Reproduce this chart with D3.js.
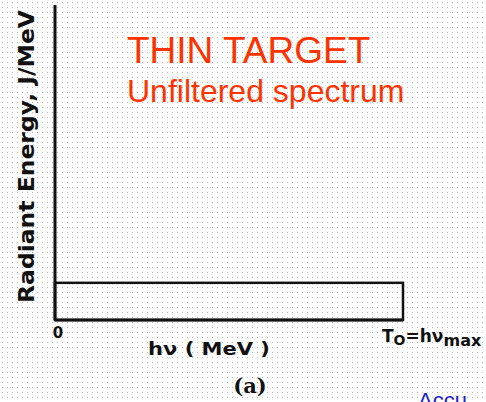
<!DOCTYPE html>
<html><head><meta charset="utf-8">
<script src="https://cdn.jsdelivr.net/npm/d3@7"></script>
<style>html,body{margin:0;padding:0;background:#fff;overflow:hidden}</style>
</head><body>
<script>
// Data: flat (constant) radiant energy from 0 to T0 = hν_max (normalized units)
const energyEdges = [0, 1];          // hν from 0 to T0 (fraction of T0)
const radiantEnergy = [0.118];       // constant J/MeV level (fraction of axis height)
const titleLines = ["THIN TARGET", "Unfiltered spectrum"];
const xTickLabels = ["0"];
const W = 486, H = 402;

const svg = d3.select("body").append("svg").attr("width", W).attr("height", H);
const defs = svg.append("defs");
const pat = defs.append("pattern").attr("id","dots").attr("width",5).attr("height",5)
  .attr("patternUnits","userSpaceOnUse");
pat.append("rect").attr("x",2).attr("y",2).attr("width",1).attr("height",1).attr("fill","#b8b8b8");
svg.append("rect").attr("width",W).attr("height",H).attr("fill","url(#dots)");

const x = d3.scaleLinear().domain([0,1]).range([55,403]);
const y = d3.scaleLinear().domain([0,1]).range([320,5]);

// bar (rectangle)
svg.selectAll("rect.bar").data(radiantEnergy).join("rect").attr("class","bar")
  .attr("x", x(energyEdges[0])).attr("width", x(energyEdges[1]) - x(energyEdges[0]))
  .attr("y", d => y(d)).attr("height", d => y(0) - y(d))
  .attr("fill","none").attr("stroke","#111").attr("stroke-width",2.5);

// axes lines
svg.append("line").attr("x1",x(0)).attr("x2",x(0)).attr("y1",y(1)).attr("y2",y(0))
  .attr("stroke","#111").attr("stroke-width",3);
svg.append("line").attr("x1",x(0)).attr("x2",x(1)).attr("y1",y(0)).attr("y2",y(0))
  .attr("stroke","#111").attr("stroke-width",3);

const F = "'Liberation Sans', Arial, sans-serif";
const FB = "'DejaVu Sans', sans-serif";
svg.selectAll("text.xt").data(xTickLabels).join("text").attr("class","xt")
  .attr("x", x(0)+3).attr("y", 338).attr("text-anchor","middle")
  .attr("font-family",FB).attr("font-weight","bold").attr("font-size",15).attr("fill","#111").text(d=>d);

svg.append("text").attr("x",148).attr("y",355)
  .attr("font-family",FB).attr("font-weight","bold").attr("font-size",18).attr("fill","#111")
  .attr("textLength",122).attr("lengthAdjust","spacingAndGlyphs").text("hν ( MeV )");

const t0 = svg.append("text").attr("x",382).attr("y",342)
  .attr("font-family",FB).attr("font-weight","bold").attr("font-size",17).attr("fill","#111");
t0.append("tspan").text("T");
t0.append("tspan").attr("font-size",14).attr("dy",3).text("O");
t0.append("tspan").attr("dy",-3).text("=hν");
t0.append("tspan").attr("font-size",16).attr("dy",4).text("max");

svg.append("text").attr("x",250).attr("y",393).attr("text-anchor","middle")
  .attr("font-family","'DejaVu Serif', serif").attr("font-weight","bold").attr("font-size",21).attr("fill","#111")
  .text("(a)");

svg.append("text").attr("transform","translate(34,303) rotate(-90)")
  .attr("font-family",FB).attr("font-weight","bold").attr("font-size",21).attr("fill","#111")
  .attr("textLength",293).attr("lengthAdjust","spacingAndGlyphs")
  .text("Radiant Energy, J/MeV");

svg.selectAll("text.title").data(titleLines).join("text").attr("class","title")
  .attr("x",127).attr("y",(d,i)=> i===0 ? 63 : 102)
  .attr("font-family",F).attr("font-size",(d,i)=> i===0 ? 37 : 32)
  .attr("fill","#ff3300").text(d=>d);

svg.append("text").attr("x",418).attr("y",408).attr("font-family",F).attr("font-size",22)
  .attr("fill","#2222cc").text("Accu");
</script>
</body></html>
